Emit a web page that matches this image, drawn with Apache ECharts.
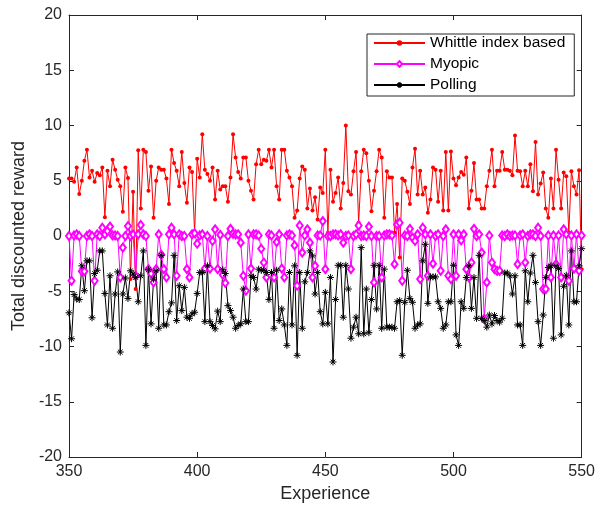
<!DOCTYPE html>
<html>
<head>
<meta charset="utf-8">
<script src="https://cdn.jsdelivr.net/npm/echarts@6/dist/echarts.min.js"></script>
<style>
  html, body { margin: 0; padding: 0; background: #fff; }
  #main { width: 598px; height: 510px; }
</style>
</head>
<body>
<div id="main"></div>
<script>
// x ticks / range
var xTicks = [350, 400, 450, 500, 550];
var yTicks = [-20, -15, -10, -5, 0, 5, 10, 15, 20];
var seriesNames = ['Whittle index based', 'Myopic', 'Polling'];

// values, one per experience 350..550
var whittle = [
    5.2, 5.2, 4.9, 6.2, 3.8, 5.0, 6.8, 7.8, 5.3, 5.9, 4.9, 5.7, 5.5, 6.2, 1.7, 5.9, 4.5, 6.9, 6.0, 5.1, 4.5, 2.2, 6.2,
    5.25, -3.9, 4.0, -4.8, 7.75, 2.5, 7.8, 7.6, 4.1, 6.3, 1.65, 5.0, 6.2, 6.0, 6.0, 5.2, 2.9, 7.8, 6.6, 5.9, 4.5, 7.6, 4.8, 3.0, 6.2, 5.8,
    0.3, 7.0, 5.3, 9.2, 6.0, 5.6, 5.0, 6.2, 3.3, 5.9, 4.2, 4.5, 4.5, 3.1, 5.3, 9.2, 7.1, 5.8, 5.2, 7.1, 7.1, 5.0, 4.1, 3.3, 6.5, 7.8,
    6.5, 6.9, 6.8, 7.8, 6.2, 7.8, 4.5, 3.3, 7.8, 7.8, 5.9, 5.3, 4.5, 1.65, 2.3, 5.2, 6.3, 6.0, 2.5, 4.3, 2.3, 3.5, 1.5, 4.4, 3.9, 7.8,
    0.3, 6.0, 3.1, 3.9, 5.3, 2.5, 4.8, 10.0, 4.05, 3.75, 5.85, 7.6, 1.2, 5.85, 7.8, 7.5, 5.0, 2.25, 4.1, 5.85, 7.8, 7.1, 1.65, 5.85, 5.3,
    5.3, 0.3, 2.9, -1.95, 5.2, 5.0, 4.0, 2.9, 6.2, 7.9, 3.75, 5.9, 3.75, 4.4, 2.1, 3.3, 6.2, 6.0, 3.1, 5.9, 2.3, 7.6, 2.3, 7.65, 5.2, 4.6,
    5.3, 5.8, 5.55, 7.1, 2.5, 4.1, 6.6, 3.3, 3.3, 2.5, 2.5, 4.5, 5.9, 7.8, 4.5, 5.9, 5.9, 7.6, 6.0, 6.0, 5.9, 5.5, 9.1, 5.9,
    5.85, 4.5, 5.9, 4.5, 6.5, 4.05, 8.5, 3.75, 4.75, 5.75, 2.5, 1.65, 5.2, 2.5, 7.8, 5.1, 2.5, 5.75, 5.4, 0.3, 5.85, 4.5, 3.75, 5.95, -3.0
];
var myopic = [
    0, -4.05, 0.05, 0.15, 0, -3.2, -3.2, 0, 0.15, 0, -4.05, 0.15, 0, 0.75, 0.15, 0.45, 0.85, 0.05, 0.05, 0, -3.75, -1.05, 0,
    0.9, 0, 0.15, -3.6, 0.15, 1.0, 0.15, 0, -3.0, -3.4, -4.2, -3.0, 0.15, -1.7, -3.0, -3.75, 0.15, 0.75, 0.15, -3.6, 0.15, 0, 0, -3.0, -3.75, 0.15,
    0.25, -0.7, 0.05, 0.15, -2.95, 0, -2.95, -0.45, 0.6, -3.0, 0.1, -3.5, -4.25, 0, 0.65, 0.2, 0.15, 0.15, -0.6, -3.6, -4.95, 0.15, -2.95, 0.15, 0.15, 0.05,
    -1.15, -2.4, -3.75, 0.15, 0.05, -3.75, -0.55, 0.15, -2.95, -3.75, 0.05, 0.15, 0.05, -0.85, -4.5, 0.95, -1.5, 0.05, 0.6, -0.6, -3.75, -2.7, 0.05, 0.05, 1.35, -3.0,
    0, 0, 0.15, 0.15, 0.05, 0.15, -0.6, 0, 0.05, -3.0, 0, 0.15, 0.95, 0, 0.05, 0, 0.85, 0, -4.2, 0, 0, -3.75, 0.05, 0.15, 0.15,
    0.05, -2.55, 1.05, 1.2, -4.05, 0.05, 0, 0.65, -0.15, -0.45, 0.15, -3.9, 0.75, 0.15, -3.6, 0.15, -2.5, 0, 0.15, -3.15, 0, 0.6, -3.6, -3.9, 0.15, -3.6,
    0.15, -0.4, 0.15, -3.0, -3.75, -2.4, 0.65, 0, 0.15, -1.5, -7.5, -4.2, 0.05, -2.4, -3.0, -3.15, -3.15, 0.05, 0, 0.15, 0, 0.05, 0.05, -2.55,
    0.05, 0.15, -2.4, 0, 0.15, 0.15, 0, 0.75, 0, -4.8, -4.8, 0.05, -3.75, 0.05, -2.55, 0.05, -3.75, 0.6, 0.15, -4.05, 0.05, -2.95, 0.15, -3.15, 0.05
];
var polling = [
    -6.95, -9.3, -5.3, -5.7, -5.75, -2.7, -4.95, -2.25, -2.25, -7.4, -3.4, -3.1, -1.35, -1.35, -5.2, -8.05, -3.6, -8.35, -5.25, -3.25, -10.5, -5.25, -3.8,
    -5.65, -3.15, -3.45, -3.75, -5.95, -3.6, -1.35, -9.9, -3.05, -7.95, -3.9, -3.15, -8.35, -1.75, -8.05, -8.05, -6.85, -6.05, -1.75, -7.65, -4.5, -6.75, -4.65, -7.35, -7.45, -7.05,
    -6.9, -5.2, -3.3, -3.3, -7.75, -2.7, -7.75, -8.1, -8.4, -6.8, -7.75, -3.05, -3.4, -6.3, -6.75, -7.35, -8.35, -8.1, -7.95, -4.8, -7.75, -7.75, -3.6, -3.75, -4.8, -3.0,
    -3.1, -3.1, -3.3, -5.75, -3.3, -8.35, -3.1, -7.65, -6.6, -8.05, -9.9, -3.3, -8.05, -2.7, -10.8, -3.3, -8.35, -4.15, -3.3, -1.35, -1.8, -5.25, -3.3, -6.85, -7.95, -5.1,
    -7.95, -3.75, -11.4, -5.75, -2.65, -2.65, -7.35, -2.65, -4.8, -9.25, -8.25, -7.35, -8.85, -1.05, -8.85, -4.8, -8.75, -5.75, -2.65, -6.6, -2.65, -8.35, -3.0, -8.25, -8.25,
    -8.25, -8.35, -5.95, -5.85, -10.8, -6.0, -3.1, -5.65, -6.0, -8.35, -8.05, -7.95, -2.25, -0.75, -6.1, -3.7, -3.7, -3.7, -5.95, -6.55, -8.35, -8.05, -5.95, -5.95, -2.65, -8.95,
    -9.9, -5.95, -6.55, -3.75, -2.7, -6.55, -3.75, -7.45, -1.75, -7.45, -7.65, -8.25, -7.15, -7.95, -7.2, -7.65, -7.8, -7.45, -3.35, -3.35, -3.6, -5.25, -3.6, -8.05,
    -8.05, -9.9, -3.15, -5.95, -3.35, -1.75, -4.2, -7.75, -9.9, -7.15, -3.75, -2.85, -2.7, -9.25, -2.7, -2.95, -8.95, -4.55, -3.55, -8.05, -1.35, -5.95, -5.95, -2.7, -1.15
];

var experience = [];
for (var i = 0; i < whittle.length; i++) {
    experience.push(xTicks[0] + i);
}

function pairs(vals) {
    return vals.map(function(v, i) { return [experience[i], v]; });
}

var axisColor = '#262626';
var fontFam = 'Liberation Sans, Arial, sans-serif';
var asterisk = 'path://M5,0L5,10M0,5L10,5M1.6,1.6L8.4,8.4M1.6,8.4L8.4,1.6';

var chart = echarts.init(document.getElementById('main'), null, { renderer: 'canvas' });

function xAx(pos) {
    return {
        type: 'value', position: pos,
        min: xTicks[0], max: xTicks[xTicks.length - 1], interval: 50,
        axisLine: { show: true, onZero: false, lineStyle: { color: axisColor, width: 1 } },
        axisTick: { show: true, inside: true, length: 5, lineStyle: { color: axisColor } },
        axisLabel: { show: pos === 'bottom', margin: 7, color: axisColor, fontSize: 16, fontFamily: fontFam },
        splitLine: { show: false },
        name: pos === 'bottom' ? 'Experience' : '',
        nameLocation: 'middle', nameGap: 28,
        nameTextStyle: { color: axisColor, fontSize: 18, fontFamily: fontFam }
    };
}
function yAx(pos) {
    return {
        type: 'value', position: pos,
        min: yTicks[0], max: yTicks[yTicks.length - 1], interval: 5,
        axisLine: { show: true, onZero: false, lineStyle: { color: axisColor, width: 1 } },
        axisTick: { show: true, inside: true, length: 5, lineStyle: { color: axisColor } },
        axisLabel: { show: pos === 'left', margin: 7, color: axisColor, fontSize: 16, fontFamily: fontFam },
        splitLine: { show: false },
        name: pos === 'left' ? 'Total discounted reward' : '',
        nameLocation: 'middle', nameGap: 39,
        nameTextStyle: { color: axisColor, fontSize: 18, fontFamily: fontFam }
    };
}

chart.setOption({
    animation: false,
    backgroundColor: '#fff',
    grid: { left: 69, right: 15, top: 15, bottom: 53 },
    xAxis: [xAx('bottom'), xAx('top')],
    yAxis: [yAx('left'), yAx('right')],
    legend: {
        left: 367, top: 34,
        orient: 'vertical',
        padding: [1, 9, 3, 6],
        itemWidth: 51, itemHeight: 7, itemGap: 5,
        borderColor: axisColor, borderWidth: 1,
        backgroundColor: '#fff',
        textStyle: { color: '#000', fontSize: 15.5, fontFamily: fontFam },
        data: seriesNames
    },
    series: [
        {
            name: seriesNames[0], type: 'line', data: pairs(whittle),
            symbol: 'circle', symbolSize: 4,
            lineStyle: { color: '#ff0000', width: 1 },
            itemStyle: { color: '#ff0000' }
        },
        {
            name: seriesNames[1], type: 'line', data: pairs(myopic),
            symbol: 'emptyDiamond', symbolSize: [6, 8],
            lineStyle: { color: '#ff00ff', width: 1 },
            itemStyle: { color: '#ff00ff', borderColor: '#ff00ff', borderWidth: 1 }
        },
        {
            name: seriesNames[2], type: 'line', data: pairs(polling),
            symbol: asterisk, symbolSize: 7,
            lineStyle: { color: '#000000', width: 1 },
            itemStyle: { color: '#000000', borderColor: '#000000', borderWidth: 1 }
        }
    ]
});
</script>
</body>
</html>
